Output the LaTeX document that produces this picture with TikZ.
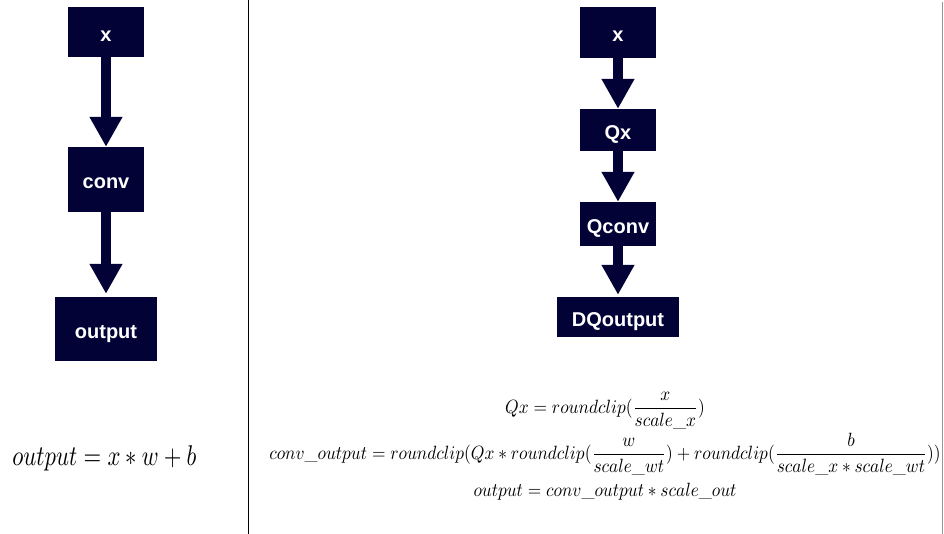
\documentclass[tikz,border=0pt]{standalone}
\usepackage{amsmath}
\usepackage{fontspec}
\newfontfamily\boxfont{Liberation Sans}
\usetikzlibrary{arrows.meta}
\definecolor{navy}{RGB}{2,2,54}
\definecolor{rgray}{RGB}{150,150,150}
\tikzset{
  blk/.style={fill=navy, inner sep=0pt, text=white, text height=19pt, text depth=0pt,
    font=\boxfont\bfseries\fontsize{20}{24}\selectfont},
  flow/.style={draw=navy, line width=10pt, -{Triangle[width=31pt,length=30pt]}},
  eq/.style={inner sep=0pt, anchor=base, xscale=1.735, yscale=1.92, transform shape}
}
\begin{document}
\begin{tikzpicture}[x=1pt,y=-1pt]
\useasboundingbox (0,0) rectangle (944,534);
\fill[white] (0,0) rectangle (944,534);
% separators
\draw[line width=1pt, black] (248,0) -- (248,534);
\draw[line width=1.5pt, rgray] (942.5,2) -- (942.5,534);
% left chain
\node[blk, minimum width=76pt, minimum height=50pt] (lx) at (106,32) {x};
\node[blk, minimum width=76pt, minimum height=65pt] (lconv) at (106,179.5) {conv};
\node[blk, minimum width=102pt, minimum height=64pt] (lout) at (106,329) {output};
\draw[flow] (lx.south) -- (lconv.north);
\draw[flow, shorten >=3pt] (lconv.south) -- (lout.north);
% right chain
\node[blk, minimum width=76pt, minimum height=51pt] (rx) at (618,32.5) {x};
\node[blk, minimum width=76pt, minimum height=42pt] (rqx) at (618,130) {Qx};
\node[blk, minimum width=76pt, minimum height=44pt] (rqc) at (618,224) {Qconv};
\node[blk, minimum width=122pt, minimum height=40pt] (rdq) at (618,317) {DQoutput};
\draw[flow] (rx.south) -- (rqx.north);
\draw[flow] (rqx.south) -- (rqc.north);
\draw[flow, shorten >=2pt] (rqc.south) -- (rdq.north);
% formulas
\node[inner sep=0pt, anchor=base west, xscale=2.27, yscale=2.85, transform shape] (fl) at (12,465) {$output = x*w+b$};
\node[eq] (f1) at (605,413) {$Qx = roundclip(\dfrac{x}{scale\_x})$};
\node[eq] (f2) at (605,459) {$conv\_output = roundclip(Qx*roundclip(\dfrac{w}{scale\_wt})+roundclip(\dfrac{b}{scale\_x*scale\_wt}))$};
\node[eq] (f3) at (605,496) {$output = conv\_output*scale\_out$};
\end{tikzpicture}
\end{document}
